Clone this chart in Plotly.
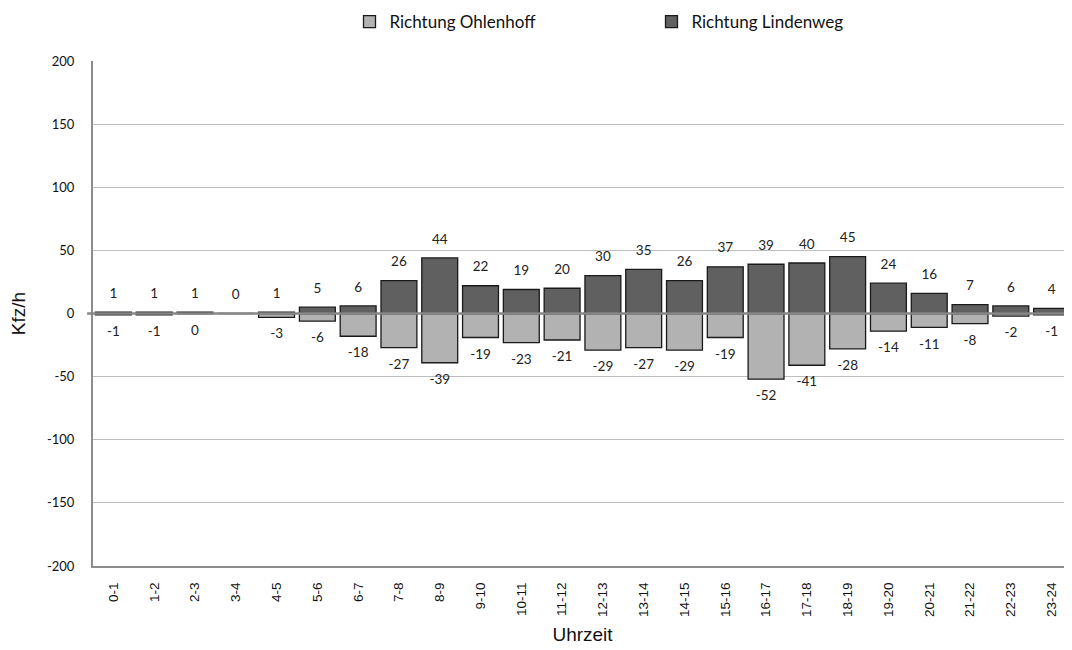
import plotly.graph_objects as go

hours = ["0-1", "1-2", "2-3", "3-4", "4-5", "5-6", "6-7", "7-8", "8-9", "9-10",
         "10-11", "11-12", "12-13", "13-14", "14-15", "15-16", "16-17", "17-18",
         "18-19", "19-20", "20-21", "21-22", "22-23", "23-24"]
lindenweg = [1, 1, 1, 0, 1, 5, 6, 26, 44, 22, 19, 20, 30, 35, 26, 37, 39, 40,
             45, 24, 16, 7, 6, 4]
ohlenhoff = [-1, -1, 0, None, -3, -6, -18, -27, -39, -19, -23, -21, -29, -27,
             -29, -19, -52, -41, -28, -14, -11, -8, -2, -1]
y_ticks = [-200, -150, -100, -50, 0, 50, 100, 150, 200]

label_font = dict(family="Lato, Open Sans, sans-serif", size=13.5, color="#222222")
# invisible marker so labels sit a bit away from the bar ends
ghost = dict(size=16, color="rgba(0,0,0,0)")

fig = go.Figure()

fig.add_trace(go.Bar(
    x=hours, y=ohlenhoff, name="Richtung Ohlenhoff",
    marker=dict(color="#b2b2b2", line=dict(color="#1a1a1a", width=1.3)),
))
fig.add_trace(go.Bar(
    x=hours, y=lindenweg, name="Richtung Lindenweg",
    marker=dict(color="#606060", line=dict(color="#1a1a1a", width=1.3)),
))

# value labels
fig.add_trace(go.Scatter(
    x=hours, y=lindenweg, mode="markers+text", text=[str(v) for v in lindenweg],
    textposition="top center", textfont=label_font, marker=ghost,
    showlegend=False, hoverinfo="skip", cliponaxis=False,
))
fig.add_trace(go.Scatter(
    x=hours, y=ohlenhoff, mode="markers+text",
    text=["" if v is None else str(v) for v in ohlenhoff],
    textposition="bottom center", textfont=label_font, marker=ghost,
    showlegend=False, hoverinfo="skip", cliponaxis=False,
))

# zero line drawn over the bars
fig.add_shape(type="line", xref="paper", x0=-0.006, x1=1, yref="y", y0=0, y1=0,
              line=dict(color="#878787", width=2.5), layer="above")

# page body has an 8px margin, so the figure is a bit smaller than the window
fig.update_layout(
    width=1064, height=642,
    barmode="relative", bargap=0.12,
    paper_bgcolor="white", plot_bgcolor="white",
    margin=dict(l=85, r=0, t=53, b=84, autoexpand=False),
    legend=dict(orientation="h", x=0.262, xanchor="left", y=1.077, yanchor="middle",
                font=dict(family="Lato, Open Sans, sans-serif", size=17, color="#111111"),
                entrywidth=257, itemwidth=30, traceorder="normal"),
    xaxis=dict(
        type="category", range=[-0.5, len(hours) - 0.5],
        title=dict(text="Uhrzeit", font=dict(family="Liberation Sans, Arial", size=19, color="#111111"),
                   standoff=12),
        tickangle=-90, tickfont=dict(family="Liberation Sans, Arial", size=13.5, color="#111111"),
        showline=True, linecolor="#8c8c8c", linewidth=2, ticks="outside",
        ticklen=9, tickcolor="white",
        showgrid=False,
    ),
    yaxis=dict(
        title=dict(text="Kfz/h", font=dict(family="Liberation Sans, Arial", size=19, color="#111111"),
                   standoff=20),
        range=[-200, 200], tickvals=y_ticks, ticktext=[str(v) for v in y_ticks],
        tickfont=dict(family="Lato, Open Sans, sans-serif", size=13, color="#111111"),
        showline=True, linecolor="#8c8c8c", linewidth=2,
        showgrid=True, gridcolor="#bdbdbd", gridwidth=1,
        zeroline=False, ticks="outside", ticklen=14, tickcolor="white",
    ),
)

fig.write_html("out.html")
